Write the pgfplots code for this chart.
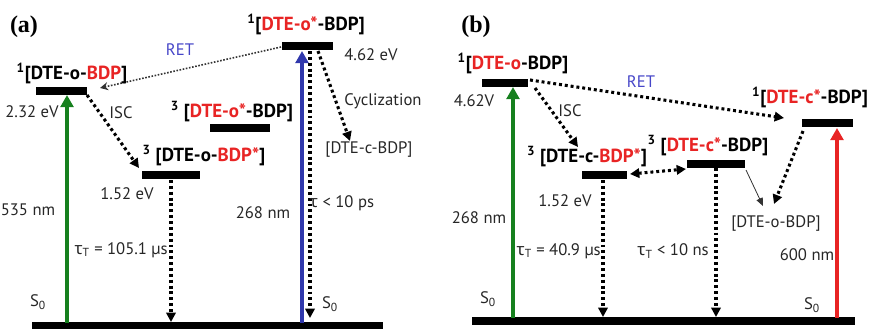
\documentclass[border=0pt]{standalone}
\usepackage{pgfplots}
\pgfplotsset{compat=1.18}
\usepackage{fontspec}
\setmainfont{PT Sans}
\newfontfamily\grk{Noto Sans}
\newfontfamily\serif{Liberation Serif}
\usetikzlibrary{arrows.meta}
\definecolor{lred}{RGB}{232,36,36}
\definecolor{lgreen}{RGB}{22,128,30}
\definecolor{lblue}{RGB}{48,56,172}
\definecolor{retblue}{RGB}{70,70,200}
\newcommand{\rd}[1]{\textcolor{lred}{#1}}
\begin{document}
\begin{tikzpicture}[
  lab/.style={font=\fontsize{14.2}{16}\selectfont\bfseries, inner sep=0pt},
  txt/.style={font=\fontsize{12.5}{15}\selectfont, inner sep=0pt, text=black!85},
]
\begin{axis}[
  scale only axis, width=654pt, height=246.75pt,
  xmin=0, xmax=872, ymin=0, ymax=329, y dir=reverse,
  axis lines=none, clip=false,
  bar/.style={black, line width=6pt, no marks},
  gnd/.style={black, line width=5.5pt, no marks},
  dots/.style={black, line width=2.3pt, dash pattern=on 2.2pt off 2.2pt, no marks, -{Triangle[length=7pt,width=7pt]}},
  solidarr/.style={line width=3pt, no marks, -{Triangle[length=9pt,width=9.5pt]}},
]
% ---------------- panel (a) ----------------
\addplot[gnd] coordinates {(32,325.5) (383,325.5)};
\addplot[bar] coordinates {(282,46) (333,46)};
\addplot[bar] coordinates {(36,91) (87,91)};
\addplot[bar] coordinates {(210,127.5) (270,127.5)};
\addplot[bar] coordinates {(142,175) (200,175)};
\addplot[solidarr, lgreen] coordinates {(67,323) (67,95)};
\addplot[solidarr, lblue] coordinates {(302,323) (302,51)};
\addplot[dots] coordinates {(310,51) (310,318)};
\addplot[dots] coordinates {(171,180) (171,322)};
\addplot[dots] coordinates {(87,95) (139,168)};
\addplot[dots] coordinates {(318,51) (350,141)};
\addplot[black!80, line width=1.2pt, dash pattern=on 1.2pt off 1.2pt, no marks, -{Stealth[length=6pt,width=6pt]}] coordinates {(281,47) (100,88)};
\node[font=\fontsize{18}{20}\selectfont\serif\bfseries, inner sep=0pt] at (axis cs:24,27) {(a)};
\node[lab] at (axis cs:306,24) {\textsuperscript{1}[\rd{DTE-o*}-BDP]};
\node[txt] at (axis cs:371,55) {4.62 eV};
\node[txt, text=retblue] at (axis cs:180,50) {RET};
\node[lab] at (axis cs:72,73) {\textsuperscript{1}[DTE-o-\rd{BDP}]};
\node[txt] at (axis cs:32,112) {2.32 eV};
\node[txt] at (axis cs:121,113) {ISC};
\node[lab] at (axis cs:232,112) {\textsuperscript{3} [\rd{DTE-o*}-BDP]};
\node[txt] at (axis cs:383,101) {Cyclization};
\node[txt] at (axis cs:369,150) {[DTE-c-BDP]};
\node[lab] at (axis cs:204,156) {\textsuperscript{3} [DTE-o-\rd{BDP*}]};
\node[txt] at (axis cs:127,194) {1.52 eV};
\node[txt] at (axis cs:28,210) {535 nm};
\node[txt] at (axis cs:263,213) {268 nm};
\node[txt] at (axis cs:342,203) {{\grk τ} < 10 ps};
\node[txt, anchor=east] at (axis cs:168,250) {{\grk τ}\textsubscript{T} = 105.1 µs};
\node[txt] at (axis cs:38,302) {S\textsubscript{0}};
\node[txt] at (axis cs:330,304) {S\textsubscript{0}};
% ---------------- panel (b) ----------------
\addplot[gnd] coordinates {(472,321) (855,321)};
\addplot[bar] coordinates {(482,82.5) (528,82.5)};
\addplot[bar] coordinates {(802,123) (853,123)};
\addplot[bar] coordinates {(687,164) (745,164)};
\addplot[bar] coordinates {(582,175) (627,175)};
\addplot[solidarr, lgreen] coordinates {(513,318) (513,87)};
\addplot[solidarr, lred] coordinates {(837,318) (837,128)};
\addplot[dots] coordinates {(603,180) (603,317)};
\addplot[dots] coordinates {(716,168) (716,317)};
\addplot[dots] coordinates {(535,88) (578,147)};
\addplot[dots] coordinates {(530,80) (784,118)};
\addplot[dots, {Triangle[length=7pt,width=7pt]}-{Triangle[length=7pt,width=7pt]}] coordinates {(630,174) (686,169)};
\addplot[dots] coordinates {(803,131) (774,204)};
\addplot[black!80, line width=0.6pt, no marks, -{Triangle[length=6pt,width=5pt]}] coordinates {(746,170) (763,206)};
\node[font=\fontsize{18}{20}\selectfont\serif\bfseries, inner sep=0pt] at (axis cs:476,27) {(b)};
\node[lab] at (axis cs:513,63) {\textsuperscript{1}[\rd{DTE-o}-BDP]};
\node[txt] at (axis cs:474,101) {4.62V};
\node[txt, text=retblue] at (axis cs:641,82) {RET};
\node[txt] at (axis cs:570,111) {ISC};
\node[lab] at (axis cs:810,97) {\textsuperscript{1}[\rd{DTE-c*}-BDP]};
\node[lab] at (axis cs:708,146) {\textsuperscript{3} [\rd{DTE-c*}-BDP]};
\node[lab] at (axis cs:587,157) {\textsuperscript{3} [DTE-c-\rd{BDP*}]};
\node[txt] at (axis cs:565,201) {1.52 eV};
\node[txt] at (axis cs:479,218) {268 nm};
\node[txt, anchor=east] at (axis cs:601,251) {{\grk τ}\textsubscript{T} = 40.9 µs};
\node[txt, anchor=east] at (axis cs:709,251) {{\grk τ}\textsubscript{T} < 10 ns};
\node[txt] at (axis cs:776,224) {[DTE-o-BDP]};
\node[txt] at (axis cs:807,255) {600 nm};
\node[txt] at (axis cs:488,299) {S\textsubscript{0}};
\node[txt] at (axis cs:812,305) {S\textsubscript{0}};
\end{axis}
\pgfresetboundingbox
\path[use as bounding box] (current axis.south west) rectangle (current axis.north east);
\end{tikzpicture}
\end{document}
